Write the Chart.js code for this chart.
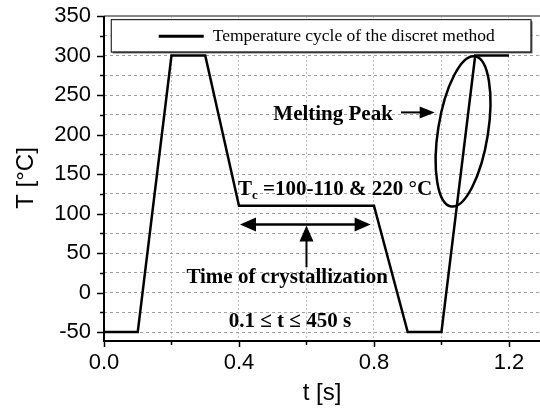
<!DOCTYPE html>
<html>
<head>
<meta charset="utf-8">
<script src="https://cdn.jsdelivr.net/npm/chart.js@4.4.1/dist/chart.umd.min.js"></script>
<style>
    html, body { margin: 0; padding: 0; background: #fff; }
    #wrap { width: 540px; height: 412px; }
</style>
</head>
<body>
<div id="wrap"><canvas id="cycleChart" width="540" height="412"></canvas></div>
<script>
/* ====================================================================================
/*  DATA : temperature cycle of the discrete method
/* ==================================================================================== */
const timeValues = [0, 0.1, 0.2, 0.3, 0.4, 0.8, 0.9, 1.0, 1.1, 1.2];
const tempValues = [-50, -50, 300, 300, 110, 110, -50, -50, 300, 300];
const seriesLabel = "Temperature cycle of the discret method";

const xTickValues = [0, 0.2, 0.4, 0.6, 0.8, 1.0, 1.2];
const yTickValues = [-50, -25, 0, 25, 50, 75, 100, 125, 150, 175, 200, 225, 250, 275, 300, 325, 350];

const SERIF = "'Liberation Serif', 'Times New Roman', serif";
const SANS = "'Liberation Sans', Arial, sans-serif";

/* ====================================================================================
/*  HELPERS
/* ==================================================================================== */
const isMajorX = v => Math.abs(v / 0.4 - Math.round(v / 0.4)) < 1e-6;
const isMajorY = v => v % 50 === 0;

// filled triangle head, tip at (x, y), pointing along (dx, dy)
function arrowHead(ctx, x, y, dx, dy, len, half) {
    const px = -dy, py = dx;
    ctx.beginPath();
    ctx.moveTo(x, y);
    ctx.lineTo(x - dx * len + px * half, y - dy * len + py * half);
    ctx.lineTo(x - dx * len - px * half, y - dy * len - py * half);
    ctx.closePath();
    ctx.fill();
}

/* ====================================================================================
/*  PLUGIN : axes, tick marks, legend box and annotations
/* ==================================================================================== */
const decorations = {
    id: "decorations",
    afterDraw(chart) {
        const { ctx, chartArea: a, scales: { x, y } } = chart;
        ctx.save();

        // top border (grey), left and bottom axes (black)
        ctx.lineWidth = 2;
        ctx.strokeStyle = "#888";
        ctx.beginPath(); ctx.moveTo(a.left, a.top); ctx.lineTo(a.right, a.top); ctx.stroke();
        ctx.strokeStyle = "#000";
        ctx.beginPath(); ctx.moveTo(a.left, a.top); ctx.lineTo(a.left, a.bottom + 1); ctx.lineTo(a.right, a.bottom + 1); ctx.stroke();

        // outward tick marks
        ctx.lineWidth = 1.5;
        yTickValues.forEach(v => {
            const py = Math.round(y.getPixelForValue(v)) + 0.5;
            const len = isMajorY(v) ? 7 : 4;
            ctx.beginPath(); ctx.moveTo(a.left - len, py); ctx.lineTo(a.left, py); ctx.stroke();
        });
        xTickValues.forEach(v => {
            const px = Math.round(x.getPixelForValue(v)) + 0.5;
            const len = isMajorX(v) ? 7 : 5;
            ctx.beginPath(); ctx.moveTo(px, a.bottom); ctx.lineTo(px, a.bottom + len); ctx.stroke();
        });

        // legend box
        const lx = x.getPixelForValue(0.02), lw = x.getPixelForValue(1.264) - lx;
        const ly = y.getPixelForValue(346), lh = y.getPixelForValue(305) - ly;
        ctx.fillStyle = "#fff";
        ctx.fillRect(lx, ly, lw, lh);
        ctx.strokeStyle = "#777";
        ctx.lineWidth = 2;
        ctx.beginPath(); ctx.moveTo(lx + 2, ly + lh + 1); ctx.lineTo(lx + lw + 1, ly + lh + 1); ctx.lineTo(lx + lw + 1, ly + 2); ctx.stroke();
        ctx.strokeStyle = "#000";
        ctx.lineWidth = 1;
        ctx.strokeRect(lx + 0.5, ly + 0.5, lw, lh);
        const ley = ly + lh / 2 + 1;
        ctx.lineWidth = 3;
        ctx.beginPath(); ctx.moveTo(lx + 48, ley); ctx.lineTo(lx + 93, ley); ctx.stroke();
        ctx.fillStyle = "#000";
        ctx.font = "17.5px " + SERIF;
        ctx.textBaseline = "middle";
        ctx.textAlign = "left";
        ctx.fillText(chart.data.datasets[0].label, lx + 102, ley);

        // annotations
        ctx.textBaseline = "alphabetic";
        ctx.font = "bold 21px " + SERIF;
        ctx.textAlign = "right";
        ctx.fillText("Melting Peak", x.getPixelForValue(0.856), y.getPixelForValue(219));
        ctx.lineWidth = 2;
        const my = y.getPixelForValue(228);
        const mx0 = x.getPixelForValue(0.88), mx1 = x.getPixelForValue(0.98);
        ctx.beginPath(); ctx.moveTo(mx0, my); ctx.lineTo(mx1 - 10, my); ctx.stroke();
        arrowHead(ctx, mx1, my, 1, 0, 15, 6);

        // melting peak ellipse
        ctx.lineWidth = 2.5;
        ctx.beginPath();
        ctx.ellipse(x.getPixelForValue(1.064), y.getPixelForValue(204), 25, 76, 9 * Math.PI / 180, 0, 2 * Math.PI);
        ctx.stroke();

        // T_c label
        ctx.textAlign = "left";
        let tx = x.getPixelForValue(0.397);
        const tyB = y.getPixelForValue(123);
        ctx.font = "bold 21px " + SERIF;
        ctx.fillText("T", tx, tyB);
        tx += ctx.measureText("T").width;
        ctx.font = "bold 13px " + SERIF;
        ctx.fillText("c", tx, tyB + 4);
        tx += ctx.measureText("c").width;
        ctx.font = "bold 21px " + SERIF;
        ctx.fillText(" =100-110 & 220 \u00B0C", tx, tyB);

        // crystallization time double arrow
        ctx.lineWidth = 2.5;
        const dy = y.getPixelForValue(86);
        const dx0 = x.getPixelForValue(0.403), dx1 = x.getPixelForValue(0.79);
        ctx.beginPath(); ctx.moveTo(dx0 + 10, dy); ctx.lineTo(dx1 - 10, dy); ctx.stroke();
        arrowHead(ctx, dx0, dy, -1, 0, 16, 7);
        arrowHead(ctx, dx1, dy, 1, 0, 16, 7);
        const vx = x.getPixelForValue(0.6);
        ctx.lineWidth = 2;
        ctx.beginPath(); ctx.moveTo(vx, dy + 10); ctx.lineTo(vx, y.getPixelForValue(32)); ctx.stroke();
        arrowHead(ctx, vx, dy + 1, 0, -1, 16, 7);

        ctx.textAlign = "right";
        ctx.fillText("Time of crystallization", x.getPixelForValue(0.841), y.getPixelForValue(12));
        ctx.textAlign = "center";
        ctx.font = "bold 21px " + SERIF;
        ctx.fillText("0.1 \u2264 t \u2264 450 s", x.getPixelForValue(0.551), y.getPixelForValue(-44));

        ctx.restore();
    }
};

/* ====================================================================================
/*  CHART
/* ==================================================================================== */
new Chart(document.getElementById("cycleChart"), {
    type: "line",
    data: {
        datasets: [{
            label: seriesLabel,
            data: timeValues.map((t, i) => ({ x: t, y: tempValues[i] })),
            borderColor: "#000",
            borderWidth: 2.5,
            pointRadius: 0,
            tension: 0,
            fill: false
        }]
    },
    options: {
        responsive: false,
        animation: false,
        devicePixelRatio: 1,
        layout: { padding: { top: 16, right: 0, bottom: 0, left: 0 } },
        plugins: { legend: { display: false }, tooltip: { enabled: false } },
        scales: {
            x: {
                type: "linear",
                min: 0,
                max: 1.292,
                afterBuildTicks: s => { s.ticks = xTickValues.map(v => ({ value: v })); },
                afterFit: s => { s.height = 72; s.paddingLeft = 0; s.paddingRight = 0; },
                grid: { color: "#c0c0c0", drawTicks: false, lineWidth: 1 },
                border: { display: false, dash: [2, 2] },
                ticks: {
                    autoSkip: false, maxRotation: 0, padding: 10, color: "#000",
                    font: { family: SANS, size: 22 },
                    callback: v => isMajorX(v) ? v.toFixed(1) : ""
                },
                title: { display: true, text: "t [s]", color: "#000", font: { family: SANS, size: 24 }, padding: { top: 0, bottom: 4 } }
            },
            y: {
                min: -60,
                max: 350,
                afterBuildTicks: s => { s.ticks = yTickValues.map(v => ({ value: v })); },
                afterFit: s => { s.width = 104; s.paddingTop = 0; s.paddingBottom = 0; },
                grid: { color: "#a0a0a0", drawTicks: false, lineWidth: 1 },
                border: { display: false, dash: [3, 3] },
                ticks: {
                    autoSkip: false, padding: 13, color: "#000",
                    font: { family: SANS, size: 22 },
                    callback: v => isMajorY(v) ? String(v) : ""
                },
                title: { display: true, text: "T [\u00B0C]", color: "#000", font: { family: SANS, size: 24 }, padding: { top: 12, bottom: 0 } }
            }
        }
    },
    plugins: [decorations]
});
</script>
</body>
</html>
